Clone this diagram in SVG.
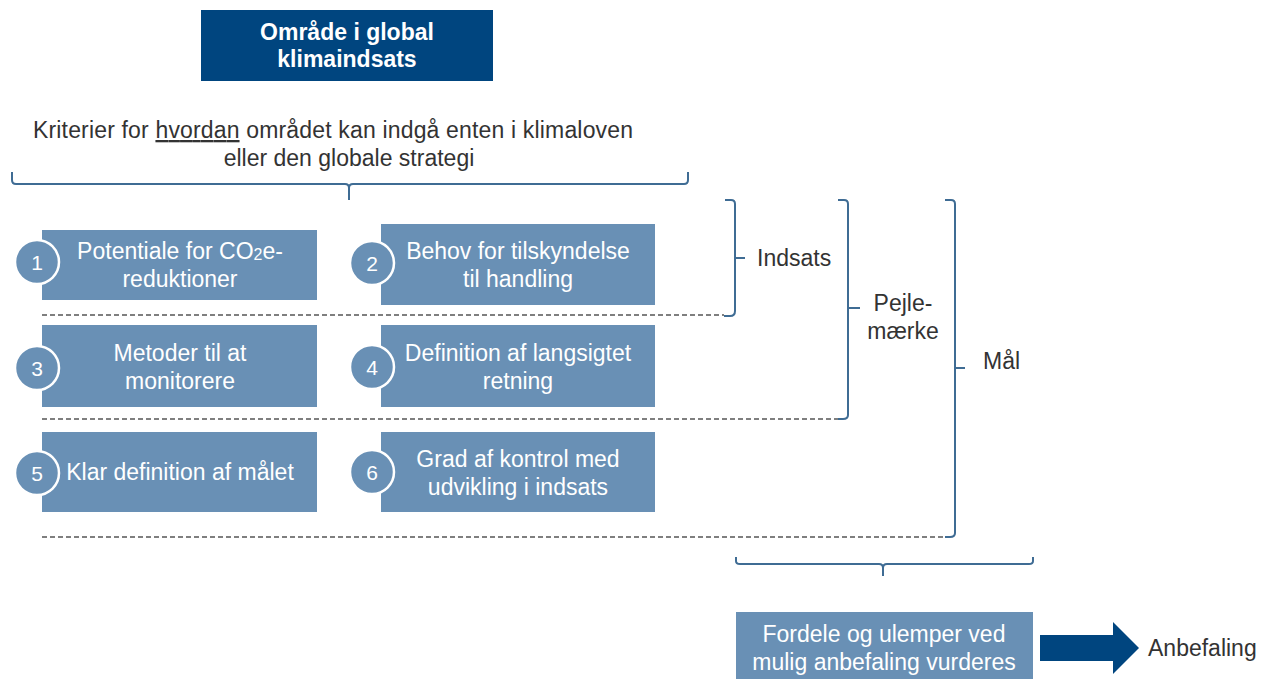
<svg xmlns="http://www.w3.org/2000/svg" width="1271" height="679" viewBox="0 0 1271 679">
<style>
text{font-family:"Liberation Sans",Arial,sans-serif;}
.box{fill:#6990b5;}
.wt{fill:#ffffff;font-size:23px;text-anchor:middle;}
.num{fill:#ffffff;font-size:21px;text-anchor:middle;}
.circ{fill:#6990b5;stroke:#ffffff;stroke-width:2.5;}
.dk{fill:#333333;font-size:23px;}
.br{fill:none;stroke:#3f6c94;stroke-width:2;}
.dash{stroke:#555555;stroke-width:1.3;stroke-dasharray:5 3;fill:none;}
</style>
<rect width="1271" height="679" fill="#ffffff"/>

<g id="title">
<rect x="201" y="10" width="292" height="71" fill="#00457f"/>
<text x="347" y="40" class="wt" font-weight="bold">Område i global</text>
<text x="347" y="67" class="wt" font-weight="bold">klimaindsats</text>
</g>

<g id="criteria">
<text x="333" y="138" class="dk" text-anchor="middle" textLength="600">Kriterier for <tspan text-decoration="underline">hvordan</tspan> området kan indgå enten i klimaloven</text>
<text x="349" y="166" class="dk" text-anchor="middle">eller den globale strategi</text>
</g>

<g id="node1">
<rect x="42" y="230" width="275" height="70" class="box"/>
<circle cx="37" cy="262" r="22" class="circ"/>
<text x="37" y="269.5" class="num">1</text>
<text x="180" y="259" class="wt">Potentiale for CO<tspan font-size="16" dy="1">2</tspan><tspan dy="-1">e-</tspan></text>
<text x="180" y="287" class="wt">reduktioner</text>
</g>

<g id="node2">
<rect x="381" y="224" width="274" height="81" class="box"/>
<circle cx="372" cy="263" r="22" class="circ"/>
<text x="372" y="270.5" class="num">2</text>
<text x="518" y="259" class="wt">Behov for tilskyndelse</text>
<text x="518" y="287" class="wt">til handling</text>
</g>

<g id="node3">
<rect x="42" y="325" width="275" height="82" class="box"/>
<circle cx="37" cy="368" r="22" class="circ"/>
<text x="37" y="375.5" class="num">3</text>
<text x="180" y="361" class="wt">Metoder til at</text>
<text x="180" y="389" class="wt">monitorere</text>
</g>

<g id="node4">
<rect x="381" y="325" width="274" height="82" class="box"/>
<circle cx="372" cy="367" r="22" class="circ"/>
<text x="372" y="374.5" class="num">4</text>
<text x="518" y="361" class="wt">Definition af langsigtet</text>
<text x="518" y="389" class="wt">retning</text>
</g>

<g id="node5">
<rect x="42" y="432" width="275" height="80" class="box"/>
<circle cx="37" cy="473" r="22" class="circ"/>
<text x="37" y="480.5" class="num">5</text>
<text x="180" y="480" class="wt">Klar definition af målet</text>
</g>

<g id="node6">
<rect x="381" y="432" width="274" height="80" class="box"/>
<circle cx="372" cy="472" r="22" class="circ"/>
<text x="372" y="479.5" class="num">6</text>
<text x="518" y="467" class="wt">Grad af kontrol med</text>
<text x="518" y="495" class="wt">udvikling i indsats</text>
</g>

<g id="labels">
<text x="757" y="266" class="dk">Indsats</text>
<text x="903" y="311" class="dk" text-anchor="middle">Pejle-</text>
<text x="903" y="339" class="dk" text-anchor="middle">mærke</text>
<text x="983" y="369" class="dk">Mål</text>
</g>

<g id="node7">
<rect x="736" y="612" width="297" height="67" class="box"/>
<text x="884" y="642" class="wt">Fordele og ulemper ved</text>
<text x="884" y="670" class="wt">mulig anbefaling vurderes</text>
</g>

<g id="result">
<text x="1148" y="656" class="dk">Anbefaling</text>
</g>

<g id="connectors">
<line x1="42" y1="315" x2="724" y2="315" class="dash"/>
<line x1="42" y1="419" x2="840" y2="419" class="dash"/>
<line x1="42" y1="537" x2="948" y2="537" class="dash"/>
<path class="br" d="M12 172 L12 180 Q12 184 16 184 L345 184 Q349 184 349 188 L349 200 M349 188 Q349 184 353 184 L684 184 Q688 184 688 180 L688 172"/>
<path class="br" d="M725 200 L731 200 Q735 200 735 204 L735 311 Q735 316 730 316 L724 316 M735 258 L745 258"/>
<path class="br" d="M838 200 L844 200 Q848 200 848 204 L848 415 Q848 419 843 419 L838 419 M848 308 L860 308"/>
<path class="br" d="M945 200 L951 200 Q955 200 955 204 L955 533 Q955 537 950 537 L945 537 M955 368 L965 368"/>
<path class="br" d="M736 557 L736 561 Q736 564 740 564 L879 564 Q883 564 883 568 L883 576 M883 568 Q883 564 887 564 L1029 564 Q1033 564 1033 561 L1033 557"/>
<path d="M1040 635 L1113 635 L1113 622 L1139 648 L1113 674 L1113 661 L1040 661 Z" fill="#00457f"/>
</g>
</svg>
